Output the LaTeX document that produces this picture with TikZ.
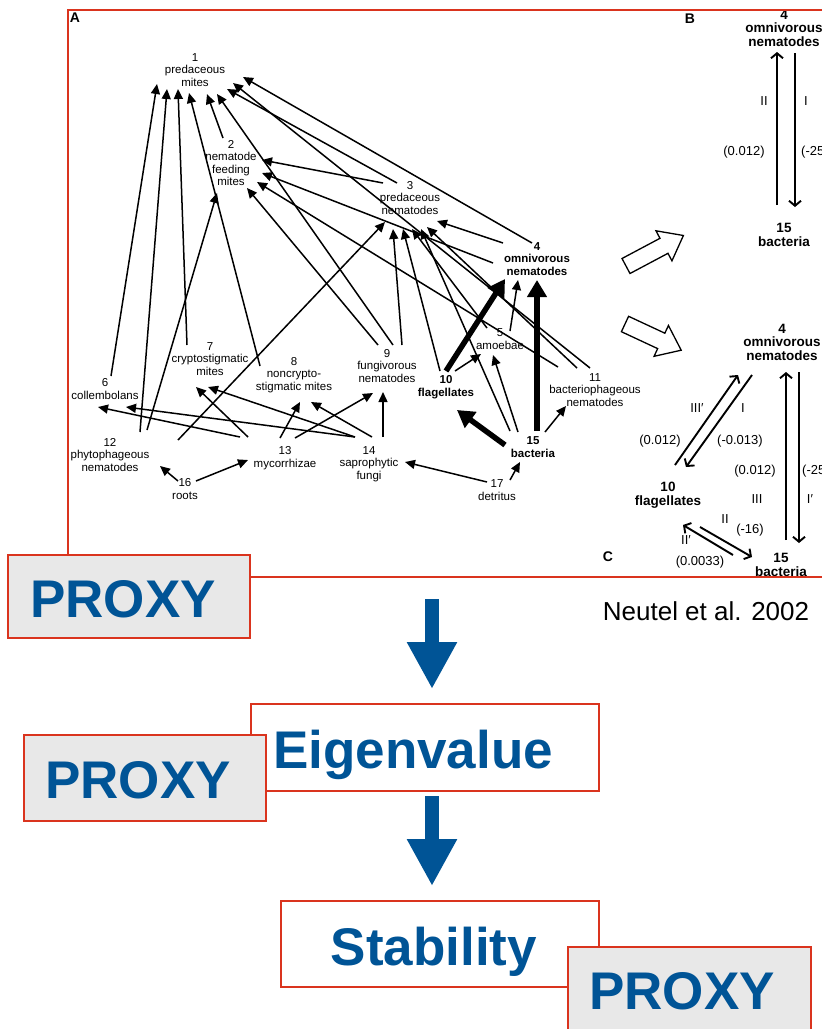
\documentclass[tikz,border=0pt]{standalone}
\usepackage{fontspec}
\setmainfont{Liberation Sans}
\usetikzlibrary{arrows.meta,calc}
\definecolor{pblue}{RGB}{0,84,150}
\definecolor{pred}{RGB}{218,52,30}
\definecolor{pgray}{RGB}{232,232,232}
\begin{document}
\begin{tikzpicture}[x=1pt,y=-1pt,
  lbl/.style={align=center,inner sep=0pt,font=\fontsize{11.5}{12.5}\selectfont},
  lblb/.style={align=center,inner sep=0pt,font=\fontsize{11.5}{12.5}\selectfont\bfseries},
  clbl/.style={align=center,inner sep=0pt,font=\fontsize{13.5}{13.5}\selectfont\bfseries},
  tlbl/.style={inner sep=0pt,font=\fontsize{13}{13}\selectfont},
  panel/.style={inner sep=0pt,font=\fontsize{14}{14}\selectfont\bfseries},
  e/.style={line width=1.5pt,-{Triangle[length=10pt,width=9pt]}},
  E/.style={line width=5.5pt,-{Triangle[length=17pt,width=19pt]}},
  bc/.style={line width=1.9pt,-{Straight Barb[length=5pt,width=12pt]}},
  hollow/.style={draw=black,fill=white,line width=1.3pt,line join=miter},
  pbox/.style={draw=pred,line width=2pt,fill=pgray,inner sep=0pt,outer sep=0pt},
  wbox/.style={draw=pred,line width=2pt,fill=white,inner sep=0pt,outer sep=0pt},
  ptext/.style={inner sep=0pt,text=pblue,font=\fontsize{53}{53}\selectfont\bfseries},
  bigarrow/.style={draw=pblue,line width=14pt,-{Triangle[length=47pt,width=47pt]}}
]
\useasboundingbox (0,0) rectangle (822,1029);
\fill[white] (0,0) rectangle (822,1029);

\begin{scope}
\clip (68,10) rectangle (822,577);
% ---------- panel A labels ----------
\node[panel] (pA) at (75,18) {A};
\node[lbl] (n1) at (195,70) {1\\predaceous\\mites};
\node[lbl] (n2) at (231,163) {2\\nematode\\feeding\\mites};
\node[lbl] (n3) at (410,198) {3\\predaceous\\nematodes};
\node[lblb] (n4) at (537,259) {4\\omnivorous\\nematodes};
\node[lbl] (n5) at (500,339) {5\\amoebae};
\node[lbl] (n6) at (105,389) {6\\collembolans};
\node[lbl] (n7) at (210,359) {7\\cryptostigmatic\\mites};
\node[lbl] (n8) at (294,375) {8\\noncrypto-\\stigmatic mites};
\node[lbl] (n9) at (387,366) {9\\fungivorous\\nematodes};
\node[lblb] (n10) at (446,387) {10\\flagellates};
\node[lbl] (n11) at (595,390) {11\\bacteriophageous\\nematodes};
\node[lbl] (n12) at (110,455) {12\\phytophageous\\nematodes};
\node[lbl] (n13) at (285,458) {13\\mycorrhizae};
\node[lbl] (n14) at (369,464) {14\\saprophytic\\fungi};
\node[lblb] (n15) at (533,447) {15\\bacteria};
\node[lbl] (n16) at (185,489) {16\\roots};
\node[lbl] (n17) at (497,490) {17\\detritus};

% into 1
\draw[e] ($(n6)+(6,-13)$) -- ($(n1)+(-38,14)$);
\draw[e] ($(n12)+(30,-23)$) -- ($(n1)+(-28,19)$);
\draw[e] ($(n7)+(-23,-14)$) -- ($(n1)+(-17,19)$);
\draw[e] ($(n8)+(-34,-9)$) -- ($(n1)+(-6,23)$);
\draw[e] ($(n2)+(-8,-25)$) -- ($(n1)+(12,24)$);
\draw[e] ($(n9)+(6,-21)$) -- ($(n1)+(22,24)$);
\draw[e] ($(n3)+(-13,-15)$) -- ($(n1)+(32,19)$);
\draw[e] ($(n11)+(-5,-22)$) -- ($(n1)+(38,13)$);
\draw[e] ($(n4)+(-5,-16)$) -- ($(n1)+(48,7)$);
% into 2
\draw[e] ($(n3)+(-27,-15)$) -- ($(n2)+(31,-3)$);
\draw[e] ($(n4)+(-44,4)$) -- ($(n2)+(31,10)$);
\draw[e] ($(n11)+(-37,-23)$) -- ($(n2)+(26,19)$);
\draw[e] ($(n9)+(-9,-21)$) -- ($(n2)+(16,25)$);
\draw[e] ($(n12)+(37,-25)$) -- ($(n2)+(-14,30)$);
% into 3
\draw[e] ($(n12)+(68,-15)$) -- ($(n3)+(-25,24)$);
\draw[e] ($(n9)+(15,-21)$) -- ($(n3)+(-17,31)$);
\draw[e] ($(n10)+(-6,-16)$) -- ($(n3)+(-7,31)$);
\draw[e] ($(n5)+(-13,-11)$) -- ($(n3)+(2,31)$);
\draw[e] ($(n15)+(-23,-16)$) -- ($(n3)+(11,31)$);
\draw[e] ($(n11)+(-18,-22)$) -- ($(n3)+(17,29)$);
\draw[e] ($(n4)+(-34,-16)$) -- ($(n3)+(27,23)$);
% into 4
\draw[E] ($(n10)+(0,-16)$) -- ($(n4)+(-32,20)$);
\draw[e] ($(n5)+(10,-8)$) -- ($(n4)+(-19,21)$);
\draw[E] ($(n15)+(4,-16)$) -- ($(n4)+(0,21)$);
% into 5
\draw[e] ($(n10)+(9,-16)$) -- ($(n5)+(-19,15)$);
\draw[e] ($(n15)+(-15,-15)$) -- ($(n5)+(-7,16)$);
% into 10, 11, 15, 14
\draw[E] ($(n15)+(-28,-2)$) -- ($(n10)+(11,23)$);
\draw[e] ($(n15)+(12,-15)$) -- ($(n11)+(-29,16)$);
\draw[e] ($(n17)+(13,-10)$) -- ($(n15)+(-13,15)$);
\draw[e] ($(n17)+(-10,-8)$) -- ($(n14)+(36,-2)$);
% into 9, 8, 7, 6
\draw[e] ($(n14)+(14,-27)$) -- ($(n9)+(-4,26)$);
\draw[e] ($(n13)+(10,-20)$) -- ($(n9)+(-14,27)$);
\draw[e] ($(n13)+(-5,-20)$) -- ($(n8)+(6,27)$);
\draw[e] ($(n14)+(3,-27)$) -- ($(n8)+(17,27)$);
\draw[e] ($(n13)+(-37,-21)$) -- ($(n7)+(-14,28)$);
\draw[e] ($(n14)+(-14,-27)$) -- ($(n7)+(-2,28)$);
\draw[e] ($(n13)+(-45,-21)$) -- ($(n6)+(-7,18)$);
\draw[e] ($(n14)+(-14,-27)$) -- ($(n6)+(21,18)$);
% into 12, 13
\draw[e] ($(n16)+(-7,-8)$) -- ($(n12)+(50,11)$);
\draw[e] ($(n16)+(11,-8)$) -- ($(n13)+(-37,2)$);

% ---------- hollow block arrows ----------
\begin{scope}[shift={(626,266)},rotate=28]
\draw[hollow] (0,-8.5) -- (43,-8.5) -- (43,-17) -- (65,0) -- (43,17) -- (43,8.5) -- (0,8.5) -- cycle;
\end{scope}
\begin{scope}[shift={(625,324)},rotate=-25]
\draw[hollow] (0,-8.5) -- (40,-8.5) -- (40,-17) -- (62,0) -- (40,17) -- (40,8.5) -- (0,8.5) -- cycle;
\end{scope}

% ---------- panel B ----------
\node[panel] (pB) at (690,19) {B};
\node[clbl] (n4b) at (784,28) {4\\omnivorous\\nematodes};
\node[clbl] (n15b) at (784,235) {15\\bacteria};
\draw[bc] ($(n15b)+(-7,-30)$) -- ($(n4b)+(-7,24)$);
\draw[bc] ($(n4b)+(11,25)$) -- ($(n15b)+(11,-28)$);
\node[tlbl] (bII) at (764,101) {II};
\node[tlbl] (bI) at (806,101) {I};
\node[tlbl] (bv1) at (744,152) {(0.012)};
\node[tlbl,anchor=west] (bv2) at (801,152) {(-25)};

% ---------- panel C ----------
\node[panel] (pC) at (608,557) {C};
\node[clbl] (n4c) at (782,342) {4\\omnivorous\\nematodes};
\node[clbl] (n10c) at (668,495) {10\\flagellates};
\node[clbl] (n15c) at (781,565) {15\\bacteria};
\draw[bc] ($(n15c)+(5,-25)$) -- ($(n4c)+(4,30)$);
\draw[bc] ($(n4c)+(17,30)$) -- ($(n15c)+(18,-22)$);
\draw[bc] ($(n10c)+(7,-30)$) -- ($(n4c)+(-44,33)$);
\draw[bc] ($(n4c)+(-30,33)$) -- ($(n10c)+(18,-28)$);
\draw[bc] ($(n15c)+(-48,-10)$) -- ($(n10c)+(15,30)$);
\draw[bc] ($(n10c)+(32,32)$) -- ($(n15c)+(-29,-8)$);
\node[tlbl] (cIIIp) at (697,408) {III′};
\node[tlbl] (cI) at (743,408) {I};
\node[tlbl] (cv1) at (660,441) {(0.012)};
\node[tlbl] (cv2) at (740,441) {(-0.013)};
\node[tlbl] (cv3) at (755,471) {(0.012)};
\node[tlbl] (cIII) at (757,499) {III};
\node[tlbl,anchor=west] (cv4) at (802,471) {(-25)};
\node[tlbl] (cIp) at (810,499) {I′};
\node[tlbl] (cII) at (725,519) {II};
\node[tlbl] (cv5) at (750,530) {(-16)};
\node[tlbl] (cIIp) at (686,540) {II′};
\node[tlbl] (cv6) at (700,562) {(0.0033)};
\end{scope}

% ---------- frame ----------
\draw[pred,line width=2pt] (68,10) rectangle (840,577);
\coordinate (fb) at (432,577);

% ---------- lower flow ----------
\node[pbox,minimum width=242pt,minimum height=83pt] (px1) at (129,596.5) {};
\node[ptext,anchor=base] (px1t) at (123,617) {PROXY};

\node[inner sep=0pt,anchor=base,font=\fontsize{26}{26}\selectfont] (cite) at (706,620) {Neutel et al. 2002};

\node[wbox,minimum width=348pt,minimum height=87pt] (eig) at (425,747.5) {};
\node[ptext,anchor=base] (eigt) at (413,768) {Eigenvalue};
\node[pbox,minimum width=242pt,minimum height=86pt] (px2) at (145,778) {};
\node[ptext,anchor=base] (px2t) at (138,798) {PROXY};

\node[wbox,minimum width=318pt,minimum height=86pt] (stab) at (440,944) {};
\node[ptext,anchor=base] (stabt) at (434,965) {Stability};
\node[pbox,minimum width=243pt,minimum height=93pt] (px3) at (689.5,993.5) {};
\node[ptext,anchor=base] (px3t) at (682,1009) {PROXY};

\draw[bigarrow] ($(fb)+(0,22)$) -- ($(eig.north)+(7,-15)$);
\draw[bigarrow] ($(eig.south)+(7,5)$) -- ($(stab.north)+(-8,-15)$);
\end{tikzpicture}
\end{document}
